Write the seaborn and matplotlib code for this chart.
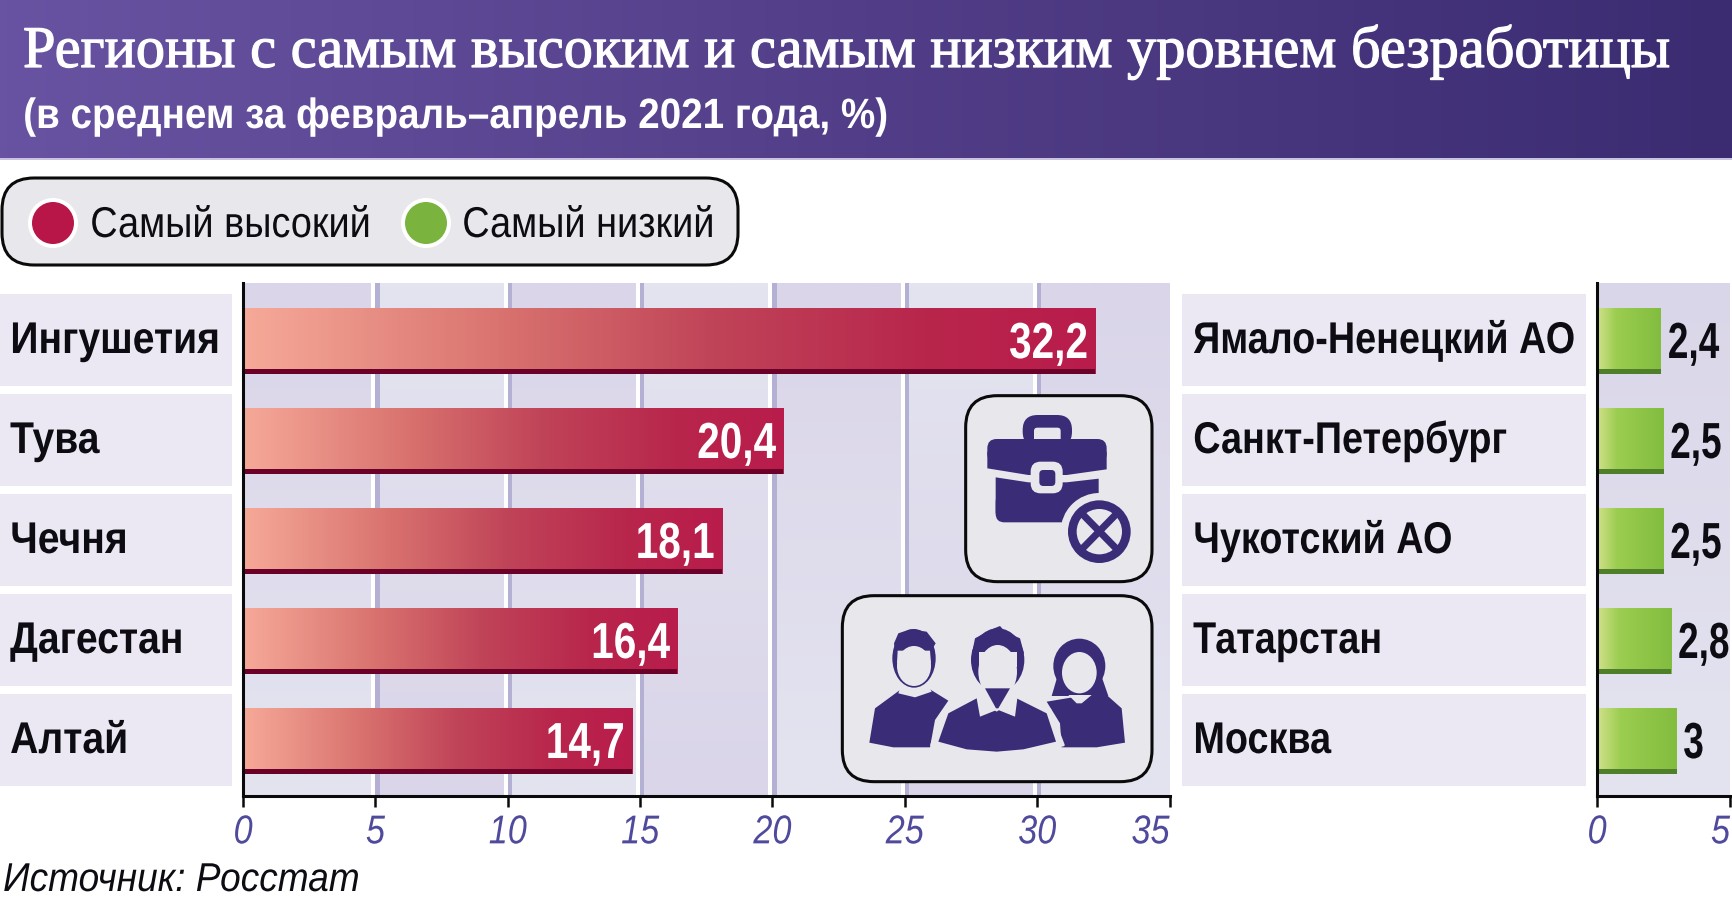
import numpy as np
import pandas as pd
import matplotlib
matplotlib.use("Agg")
import matplotlib.pyplot as plt
import seaborn as sns
from matplotlib.colors import LinearSegmentedColormap, to_rgb
from matplotlib.patches import Circle, Ellipse, FancyBboxPatch, Polygon, Rectangle
from matplotlib.patheffects import AbstractPathEffect
from matplotlib.transforms import Affine2D

W, H = 1732, 897

TITLE = "Регионы с самым высоким и самым низким уровнем безработицы"
SUBTITLE = "(в среднем за февраль–апрель 2021 года, %)"
SOURCE = "Источник: Росстат"
LEGEND_LABELS = ["Самый высокий", "Самый низкий"]

high_regions = ["Ингушетия", "Тува", "Чечня", "Дагестан", "Алтай"]
high_values = [32.2, 20.4, 18.1, 16.4, 14.7]
low_regions = ["Ямало-Ненецкий АО", "Санкт-Петербург", "Чукотский АО", "Татарстан", "Москва"]
low_values = [2.4, 2.5, 2.5, 2.8, 3]
high_ticks = [0, 5, 10, 15, 20, 25, 30, 35]
low_ticks = [0, 5]

INK = "#3b2c78"
CARD = "#e8e8ec"
TICK_BLUE = "#4f4a9c"
PT = 0.72  # points per pixel at dpi 100

sns.set_style("white")
plt.rcParams["font.family"] = ["Liberation Sans", "DejaVu Sans"]


class Squeeze(AbstractPathEffect):
    """Condense real text horizontally, there is no narrow font installed."""

    def __init__(self, sx, anchor="left", stroke=0):
        super().__init__()
        self.sx = sx
        self.anchor = anchor
        self.stroke = stroke

    def draw_path(self, renderer, gc, tpath, affine, rgbFace=None):
        box = tpath.get_extents(affine)
        a = {"left": box.x0, "right": box.x1, "center": (box.x0 + box.x1) / 2}[self.anchor]
        squeeze = Affine2D().translate(-a, 0).scale(self.sx, 1).translate(a, 0)
        gc0 = renderer.new_gc()
        gc0.copy_properties(gc)
        if self.stroke:
            gc0.set_linewidth(self.stroke)
            gc0.set_foreground(rgbFace)
        renderer.draw_path(gc0, tpath, affine + squeeze, rgbFace)
        gc0.restore()


def px_axes(fig, zorder):
    a = fig.add_axes([0, 0, 1, 1], zorder=zorder)
    a.set_xlim(0, W)
    a.set_ylim(H, 0)
    a.axis("off")
    a.patch.set_alpha(0)
    return a


def chart_axes(fig, x0, x1, y0, y1):
    a = fig.add_axes([x0 / W, 1 - y1 / H, (x1 - x0) / W, (y1 - y0) / H], zorder=2)
    a.patch.set_alpha(0)
    return a


def gradient_fill(ax, patch, cmap):
    """Paint a horizontal gradient inside a bar drawn by seaborn."""
    x, y, w, h = patch.get_x(), patch.get_y(), patch.get_width(), patch.get_height()
    im = ax.imshow(np.linspace(0, 1, 256)[None, :], extent=[x, x + w, y + h, y], cmap=cmap,
                   aspect="auto", zorder=3, interpolation="bilinear")
    im.set_clip_path(patch)


def draw_bars(ax, regions, values, ticks, cmap, strip, pad_px, label_sx):
    df = pd.DataFrame({"region": regions, "value": values})
    sns.barplot(data=df, x="value", y="region", orient="h", color="#b81c4b", width=0.66,
                saturation=1, ax=ax, zorder=2)
    for p in list(ax.patches):
        p.set_linewidth(0)
        gradient_fill(ax, p, cmap)
        ax.add_patch(Rectangle((p.get_x(), p.get_y() + p.get_height() - 0.05), p.get_width(), 0.05,
                               facecolor=strip, linewidth=0, zorder=4))
    ax.set_xticks(ticks)
    ax.set_xlim(ticks[0], ticks[-1])
    ax.set_ylim(4.55, -0.58)
    ax.set_xlabel("")
    ax.set_ylabel("")
    sns.despine(ax=ax)
    for s in ("left", "bottom"):
        ax.spines[s].set_linewidth(2.2)
        ax.spines[s].set_color("#0a0a0a")
        ax.spines[s].set_zorder(6)
    ax.tick_params(axis="x", length=8, width=1.8, color="#0a0a0a", bottom=True, pad=4.5,
                   labelsize=29, labelcolor=TICK_BLUE)
    labels = ax.get_xticklabels()
    for t in labels:
        t.set_style("italic")
        t.set_path_effects([Squeeze(0.85, "center")])
    # last tick label stays inside the axis end
    labels[-1].set_ha("right")
    labels[-1].set_path_effects([Squeeze(0.85, "right")])
    ax.tick_params(axis="y", length=0, labelleft=False)
    for pos, region in enumerate(regions):
        t = ax.annotate(region, (0, pos), xycoords=ax.get_yaxis_transform(),
                        xytext=(-pad_px * PT, -12 * PT), textcoords="offset points",
                        ha="left", va="baseline", fontsize=32, fontweight="bold", color="#0c0c12")
        t.set_path_effects([Squeeze(label_sx, "left")])


def draw_bands(ax, x_edges, tops, bottoms):
    for i, (a, b) in enumerate(zip(x_edges[:-1], x_edges[1:])):
        c0, c1 = (tops, bottoms) if i % 2 == 0 else (bottoms, tops)
        mix = np.linspace(0, 1, 64)[:, None, None]
        img = (1 - mix) * np.array(to_rgb(c0))[None, None, :] + mix * np.array(to_rgb(c1))[None, None, :]
        ax.imshow(img, extent=[a, b, 4.55, -0.58], aspect="auto", zorder=0.5, interpolation="bilinear")


fig = plt.figure(figsize=(W / 100, H / 100), dpi=100, facecolor="white")
bg = px_axes(fig, 0)
fg = px_axes(fig, 5)
renderer = fig.canvas.get_renderer()

# header
header_cmap = LinearSegmentedColormap.from_list("hdr", ["#6853a2", "#523e88", "#3b2c72"])
bg.imshow(np.linspace(0, 1, 512)[None, :], extent=[0, W, 159, 0], cmap=header_cmap, aspect="auto")
bg.set_xlim(0, W)
bg.set_ylim(H, 0)
bg.add_patch(Rectangle((0, 158.5), W, 1.5, facecolor="#c9c3e3", linewidth=0))
t = bg.text(23, 67, TITLE, color="white", fontsize=42.5, family=["Liberation Serif"],
            va="baseline", ha="left")
t.set_path_effects([Squeeze(1648 / t.get_window_extent(renderer).width, "left", stroke=0.9)])
t = bg.text(23, 128, SUBTITLE, color="white", fontsize=30.5, fontweight="bold", va="baseline", ha="left")
t.set_path_effects([Squeeze(867 / t.get_window_extent(renderer).width, "left")])

# legend
bg.add_patch(FancyBboxPatch((2 + 32, 178 + 32), 736 - 64, 87 - 64, boxstyle="round,pad=32,rounding_size=32",
                            facecolor=CARD, edgecolor="#0a0a0a", linewidth=2.2))
for cx, col, label, tx in zip([53, 426], ["#b81549", "#7ab33e"], LEGEND_LABELS, [90, 462]):
    bg.add_patch(Circle((cx, 223), 25, facecolor="white", linewidth=0))
    bg.add_patch(Circle((cx, 223), 21, facecolor=col, linewidth=0))
    t = bg.text(tx, 237, label, fontsize=31, color="#0c0c12", va="baseline", ha="left")
    t.set_path_effects([Squeeze(0.88, "left")])

# row boxes
for i in range(5):
    y = 294 + 100 * i
    bg.add_patch(Rectangle((0, y), 232, 92, facecolor="#ece8f3", linewidth=0))
    bg.add_patch(Rectangle((1182, y), 404, 92, facecolor="#ece8f3", linewidth=0))

t = bg.text(3, 891, SOURCE, fontsize=29, style="italic", color="#0c0c12", va="baseline", ha="left")
t.set_path_effects([Squeeze(0.92, "left")])

# left chart
ax1 = chart_axes(fig, 243, 1169.5, 283, 796)
red = LinearSegmentedColormap.from_list(
    "red", [(0, "#f6a998"), (0.3, "#d9736f"), (0.55, "#c04458"), (0.8, "#b8264c"), (1, "#b81c4b")])
draw_bars(ax1, high_regions, high_values, high_ticks, red, "#6b0028", 233, 0.88)
draw_bands(ax1, high_ticks, "#dad5e9", "#e4e4f0")
for tick in high_ticks[1:-1]:
    ax1.axvspan(tick - 0.15, tick, color="white", linewidth=0, zorder=1)
    ax1.axvspan(tick, tick + 0.16, color="#b3b0d4", linewidth=0, zorder=1)
ax1.set_xlim(0, 35)
ax1.set_ylim(4.55, -0.58)
for pos, val in enumerate(high_values):
    t = ax1.annotate(f"{val:.1f}".replace(".", ","), (val, pos), xytext=(-7 * PT, -17 * PT),
                     textcoords="offset points", ha="right", va="baseline", color="white",
                     fontsize=36.5, fontweight="bold", zorder=5)
    t.set_path_effects([Squeeze(0.8, "right")])

# right chart
ax2 = chart_axes(fig, 1597, 1730, 283, 796)
green = LinearSegmentedColormap.from_list(
    "green", [(0, "#d2e18c"), (0.3, "#9bcd50"), (1, "#82bd3f")])
draw_bars(ax2, low_regions, low_values, low_ticks, green, "#4f7f2a", 404, 0.85)
draw_bands(ax2, [0, 5], "#dad6e9", "#e4e4f0")
ax2.set_xlim(0, 5)
ax2.set_ylim(4.55, -0.58)
for pos, val in enumerate(low_values):
    t = ax2.annotate(f"{val:g}".replace(".", ","), (val, pos), xytext=(0, -17 * PT),
                     textcoords="offset points", ha="right", va="baseline", color="#0c0c12",
                     fontsize=36.5, fontweight="bold", zorder=5)
    t.set_path_effects([Squeeze(0.73, "right")])
    # right edge of the condensed number sits 7 px after the bar
    width = t.get_window_extent(renderer).width * 0.73
    t.xyann = ((7 + width) * PT, -17 * PT)


# icon cards, coordinates taken from a 3x crop whose corner is (820, 380)
def z(x, y):
    return 820 + x / 3, 380 + y / 3


def rbox(x0, y0, x1, y1, r, fc, ec="none", lw=0):
    (a, b), (c, d) = z(x0, y0), z(x1, y1)
    r = r / 3
    fg.add_patch(FancyBboxPatch((a + r, b + r), c - a - 2 * r, d - b - 2 * r,
                                boxstyle=f"round,pad={r},rounding_size={r}", facecolor=fc,
                                edgecolor=ec, linewidth=lw))


def poly(points, fc, lw=0, ec=None):
    fg.add_patch(Polygon([z(*q) for q in points], closed=True, facecolor=fc, edgecolor=ec or fc,
                         linewidth=lw, joinstyle="round"))


def ell(cx, cy, rx, ry, fc):
    a, b = z(cx, cy)
    fg.add_patch(Ellipse((a, b), 2 * rx / 3, 2 * ry / 3, facecolor=fc, linewidth=0))


rbox(437, 47, 996, 605, 95, CARD, "#0a0a0a", 2.2)
rbox(67, 647, 996, 1205, 95, CARD, "#0a0a0a", 2.2)

# briefcase
rbox(608, 105, 756, 200, 45, INK)
rbox(642, 143, 722, 200, 10, CARD)
rbox(502, 177, 860, 250, 28, INK)
poly([(502, 215), (860, 215), (860, 268), (740, 285), (625, 285), (502, 265)], INK)
rbox(527, 340, 836, 427, 26, INK)
poly([(527, 292), (625, 307), (740, 307), (836, 296), (836, 400), (527, 400)], INK)
ell(838, 455, 116, 116, CARD)
ell(838, 455, 94, 94, INK)
ell(838, 455, 68, 68, CARD)
for q in ([(780, 410), (795, 395), (896, 498), (881, 513)], [(881, 395), (896, 410), (795, 513), (780, 498)]):
    poly(q, INK)
rbox(632, 245, 728, 340, 30, CARD)
rbox(658, 270, 706, 318, 12, INK)

# people
poly([(148, 1088), (165, 985), (240, 930), (285, 945), (325, 925), (385, 962), (345, 1020), (330, 1102), (220, 1102)], INK)
ell(282, 835, 65, 88, INK)
poly([(222, 790), (235, 760), (270, 748), (320, 755), (347, 790), (335, 810), (225, 810)], INK)
ell(282, 858, 51, 60, CARD)
poly([(233, 812), (330, 812), (333, 850), (231, 850)], CARD)
poly([(240, 925), (285, 940), (328, 922), (335, 935), (285, 952), (235, 940)], CARD)

poly([(680, 965), (770, 950), (860, 945), (905, 985), (915, 1088), (830, 1102), (725, 1102), (720, 1030)], INK)
ell(778, 858, 78, 82, INK)
poly([(695, 948), (865, 948), (845, 890), (712, 890)], INK)
ell(778, 878, 52, 62, CARD)
poly([(745, 945), (815, 945), (785, 970), (770, 970)], CARD)

poly([(335, 1095), (365, 1000), (465, 945), (600, 945), (690, 990), (730, 1095), (530, 1125)], CARD, lw=2, ec=CARD)
poly([(355, 1085), (385, 1000), (470, 955), (530, 995), (590, 955), (680, 1000), (708, 1085), (610, 1108),
      (530, 1115), (440, 1108)], INK)
ell(533, 840, 80, 95, INK)
poly([(456, 820), (465, 775), (510, 750), (540, 738), (555, 755), (600, 775), (612, 820), (590, 860), (475, 860)], INK)
ell(533, 875, 58, 80, CARD)
poly([(478, 815), (590, 815), (590, 860), (478, 860)], CARD)
poly([(470, 955), (488, 945), (530, 990), (480, 1010)], CARD)
poly([(592, 955), (578, 945), (535, 990), (585, 1010)], CARD)
poly([(495, 925), (570, 925), (535, 985), (528, 985)], INK)

fig.savefig("out.png", dpi=100)
